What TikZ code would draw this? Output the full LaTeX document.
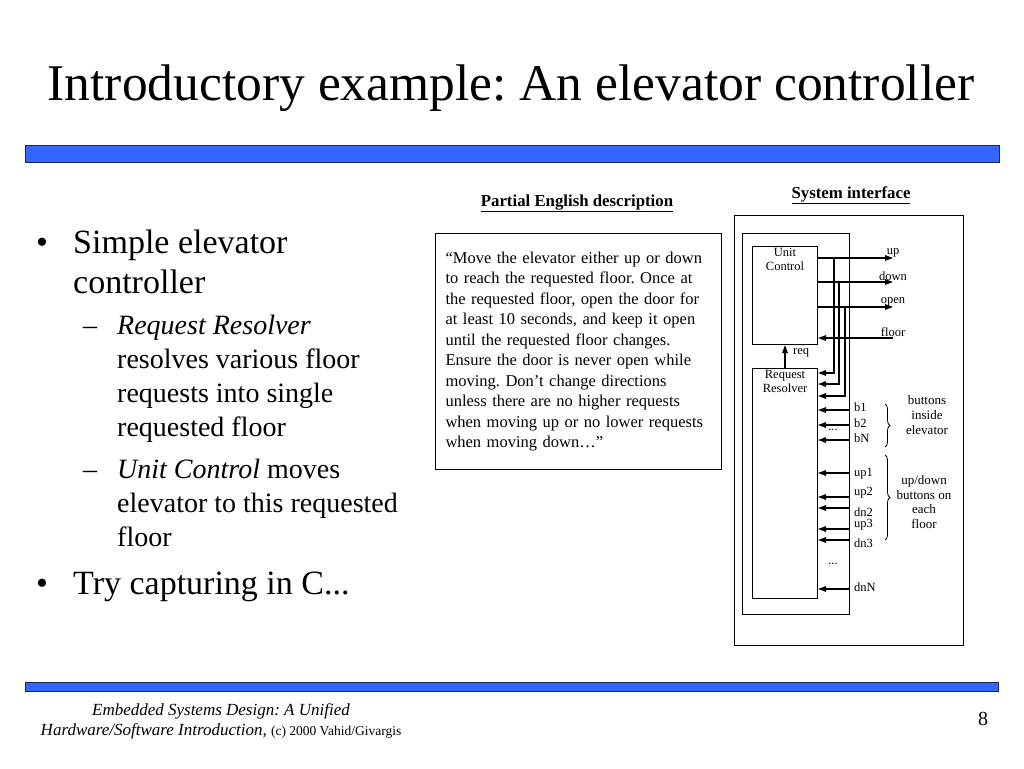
\documentclass[tikz,border=0pt]{standalone}
\usepackage{fontspec}
\setmainfont{Liberation Serif}
\usetikzlibrary{positioning,arrows.meta,decorations.pathreplacing}
\definecolor{barblue}{RGB}{51,102,255}
\definecolor{barline}{RGB}{30,40,80}
\frenchspacing

\begin{document}
\begin{tikzpicture}[x=1pt, y=-1pt,
  box/.style={draw=black, line width=1pt, inner sep=0pt},
  bar/.style={draw=barline, line width=1.2pt, fill=barblue, inner sep=0pt, anchor=north west},
  sig/.style={font=\fontsize{12.5}{14}\selectfont, inner sep=1pt},
  note/.style={font=\fontsize{13}{14.8}\selectfont, align=center, inner sep=0pt},
  arr/.style={-{Triangle[length=8pt,width=5.5pt]}, line width=1.3pt},
  brc/.style={decorate, decoration={brace, amplitude=5pt}, line width=0.8pt},
  bul/.style={font=\fontsize{34}{40.5}\selectfont, align=left, inner sep=0pt},
  sub/.style={font=\fontsize{28}{34}\selectfont, align=left, inner sep=0pt},
  head/.style={font=\fontsize{16.8}{18}\selectfont\bfseries, inner sep=0pt, anchor=base}]
\useasboundingbox (0,0) rectangle (1024,768);

% title and bars
\node[anchor=base, font=\fontsize{51.5}{60}\selectfont, inner sep=0pt] (title) at (511,100)
  {Introductory example: An elevator controller};
\node[bar, minimum width=974, minimum height=17] (topbar) at (25,145) {};
\node[bar, minimum width=973, minimum height=9] (botbar) at (25,682) {};

% bullet list
\node[bul, anchor=base west] (dot1) at (36,253) {•};
\node[bul, anchor=north west] (item1) at (73,229.5) {Simple elevator\\controller};
\node[sub, anchor=base west] (dash1) at (83,334) {–};
\node[sub, anchor=north west] (item1a) at (117,314.5)
  {\textit{Request Resolver}\\resolves various floor\\requests into single\\requested floor};
\node[sub, anchor=base west] (dash2) at (83,478) {–};
\node[sub, anchor=north west] (item1b) at (117,458.5)
  {\textit{Unit Control} moves\\elevator to this requested\\floor};
\node[bul, anchor=base west] (dot2) at (36,594) {•};
\node[bul, anchor=base west] (item2) at (73,594) {Try capturing in C...};

% English description
\node[head] (deschead) at (577,206) {\underline{Partial English description}};
\node[box, anchor=north west, minimum width=286, minimum height=236, text width=266,
      inner xsep=10pt, align=left, font=\fontsize{16.5}{20.5}\selectfont] (desc) at (435,233)
  {“Move the elevator either up or down\\
   to reach the requested floor. Once at\\
   the requested floor, open the door for\\
   at least 10 seconds, and keep it open\\
   until the requested floor changes.\\
   Ensure the door is never open while\\
   moving. Don’t change directions\\
   unless there are no higher requests\\
   when moving up or no lower requests\\
   when moving down…”};

% system interface
\node[head] (syshead) at (851,198) {\underline{System interface}};
\node[box, anchor=north west, minimum width=229, minimum height=430] (sys) at (734,215) {};
\node[box, anchor=north west, minimum width=107, minimum height=381] (ctrl) at (742,233) {};
\node[box, anchor=north west, minimum width=65, minimum height=98] (uc) at (752,246) {};
\node[box, anchor=north west, minimum width=65, minimum height=230] (rr) at (752,368) {};
\node[sig, align=center, anchor=north] (uclbl) at (785,247) {Unit\\Control};
\node[sig, align=center, anchor=north] (rrlbl) at (785,369) {Request\\Resolver};

% unit control outputs
\coordinate (upend) at (893,258);
\coordinate (downend) at (893,282);
\coordinate (openend) at (893,307);
\coordinate (floorin) at (893,338);
\draw[arr] (uc.east |- upend) -- (upend);
\draw[arr] (uc.east |- downend) -- (downend);
\draw[arr] (uc.east |- openend) -- (openend);
\draw[arr] (floorin) -- (uc.east |- floorin);
\node[sig, above] (uplbl) at (upend) {up};
\node[sig, above] (downlbl) at (downend) {down};
\node[sig, above] (openlbl) at (openend) {open};
\node[sig, above] (floorlbl) at (floorin) {floor};

% feedback into the resolver
\coordinate (upbr) at (834,258);
\coordinate (downbr) at (839,282);
\coordinate (openbr) at (845,307);
\coordinate (upret) at (rr.east |- 0,373);
\coordinate (downret) at (rr.east |- 0,384);
\coordinate (openret) at (rr.east |- 0,396);
\draw[arr] (upbr) |- (upret);
\draw[arr] (downbr) |- (downret);
\draw[arr] (openbr) |- (openret);
\draw[arr] (rr.north) -- (uc.south);
\node[sig, anchor=west] (reqlbl) at (792,353) {req};

% button inputs
\foreach \y/\nm/\ly in {410/b1/407, 425/b2/423, 440/bN/438, 473/up1/474, 497/up2/493,
                        508/dn2/512, 529/up3/525, 540/dn3/543, 589/dnN/587} {
  \coordinate (in-\nm) at (ctrl.east |- 0,\y);
  \draw[arr] (in-\nm) -- (rr.east |- in-\nm);
  \node[sig, anchor=west] (lbl-\nm) at (853,\ly) {\nm};
}
\node[sig] (dotsb) at (833,430) {...};
\node[sig] (dotsf) at (833,564) {...};

% braces
\coordinate (btop) at (885,404);
\coordinate (bbot) at (885,447);
\coordinate (ftop) at (885,455);
\coordinate (fbot) at (885,540);
\draw[brc] (btop) -- (bbot);
\draw[brc] (ftop) -- (fbot);
\node[note] (bnote) at (927,415) {buttons\\inside\\elevator};
\node[note] (fnote) at (924,502) {up/down\\buttons on\\each\\floor};

% footer
\node[align=center, anchor=north, inner sep=0pt, font=\fontsize{17}{20}\selectfont\itshape] (foot) at (221,703)
  {Embedded Systems Design: A Unified\\Hardware/Software Introduction, {\upshape\fontsize{13.5}{20}\selectfont(c) 2000 Vahid/Givargis}};
\node[anchor=base, font=\fontsize{20}{20}\selectfont, inner sep=0pt] (pnum) at (983,725) {8};
\end{tikzpicture}
\end{document}
